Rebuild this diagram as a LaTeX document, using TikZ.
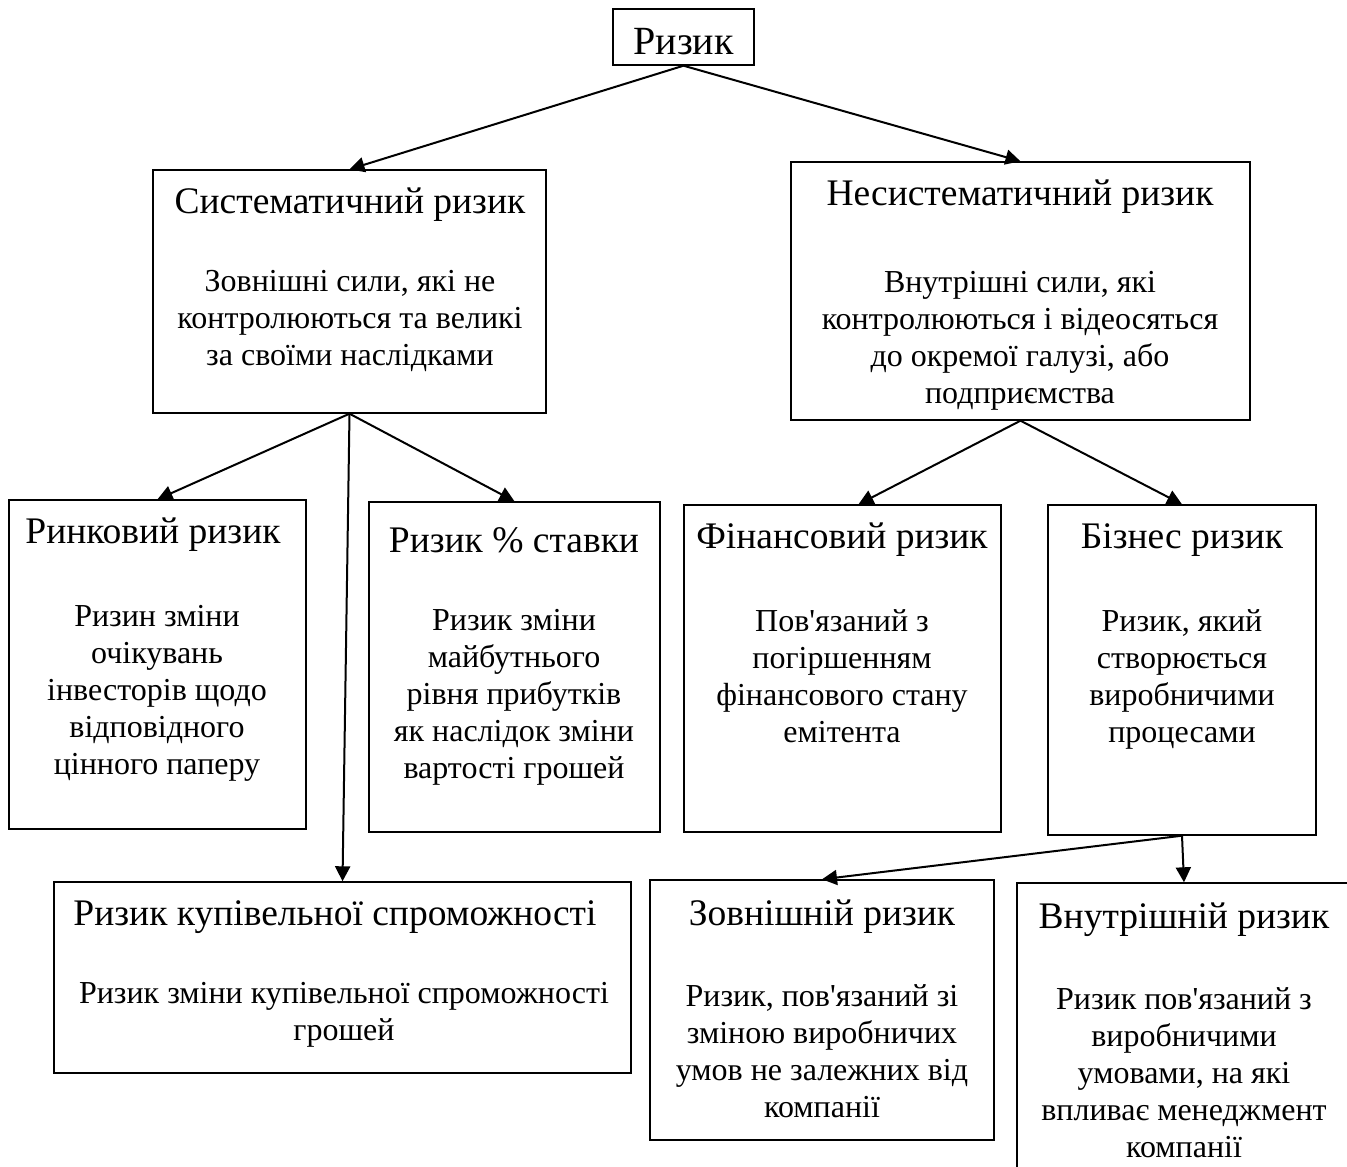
\documentclass[tikz,border=0pt]{standalone}
\usepackage{fontspec}
\setmainfont{Liberation Serif}
\usetikzlibrary{positioning,arrows.meta,calc}

\begin{document}
\begin{tikzpicture}[x=1pt,y=-1pt,every node/.style={inner sep=0pt},
  box/.style={draw,line width=1.4pt},
  ttl/.style={font=\fontsize{37.5}{42}\selectfont},
  txt/.style={anchor=north,align=center,font=\fontsize{32}{37}\selectfont},
  arr/.style={line width=2pt,-{Triangle[length=15pt,width=15pt]}}]
\useasboundingbox (0,0) rectangle (1347,1167);
% boxes
\node[box,minimum width=141pt,minimum height=56pt] (riz) at (683.5,37) {};
\node[box,minimum width=393pt,minimum height=243pt] (sys) at (349.5,291.5) {};
\node[box,minimum width=459pt,minimum height=258pt] (nes) at (1020.5,291) {};
\node[box,minimum width=297pt,minimum height=329pt] (rin) at (157.5,664.5) {};
\node[box,minimum width=291pt,minimum height=330pt] (stv) at (514.5,667) {};
\node[box,minimum width=317pt,minimum height=327pt] (fin) at (842.5,668.5) {};
\node[box,minimum width=268pt,minimum height=330pt] (biz) at (1182,670) {};
\node[box,minimum width=577pt,minimum height=191pt] (kup) at (342.5,977.5) {};
\node[box,minimum width=344pt,minimum height=260pt] (zov) at (822,1010) {};
\node[box,minimum width=334pt,minimum height=297pt] (vnu) at (1184,1031.5) {};
% titles
\node[ttl,font=\fontsize{40}{44}\selectfont] (rizT) at (683.5,42) {Ризик};
\node[ttl] (sysT) at (350,205) {Систематичний ризик};
\node[ttl] (nesT) at (1020,197) {Несистематичний ризик};
\node[ttl] (rinT) at (153,535) {Ринковий ризик};
\node[ttl] (stvT) at (514,540) {Ризик \% ставки};
\node[ttl] (finT) at (842,540) {Фінансовий ризик};
\node[ttl] (bizT) at (1182,540) {Бізнес ризик};
\node[ttl] (kupT) at (335,917) {Ризик купівельної спроможності};
\node[ttl] (zovT) at (822,917) {Зовнішній ризик};
\node[ttl] (vnuT) at (1184,920) {Внутрішній ризик};
% texts
\node[txt] (sysB) at (350,270) {Зовнішні сили, які не\\контролюються та великі\\за своїми наслідками};
\node[txt] (nesB) at (1020,271) {Внутрішні сили, які\\контролюються і відеосяться\\до окремої галузі, або\\подприємства};
\node[txt] (rinB) at (157,605) {Ризин зміни\\очікувань\\інвесторів щодо\\відповідного\\цінного паперу};
\node[txt] (stvB) at (514,609) {Ризик зміни\\майбутнього\\рівня прибутків\\як наслідок зміни\\вартості грошей};
\node[txt] (finB) at (842,609) {Пов\textquotesingle язаний з\\погіршенням\\фінансового стану\\емітента};
\node[txt] (bizB) at (1182,609) {Ризик, який\\створюється\\виробничими\\процесами};
\node[txt] (kupB) at (344,982) {Ризик зміни купівельної спроможності\\грошей};
\node[txt] (zovB) at (822,984) {Ризик, пов\textquotesingle язаний зі\\зміною виробничих\\умов не залежних від\\компанії};
\node[txt] (vnuB) at (1184,987) {Ризик пов\textquotesingle язаний з\\виробничими\\умовами, на які\\впливає менеджмент\\компанії};
% arrows
\draw[arr] (riz.south) -- (sys.north);
\draw[arr] (riz.south) -- (nes.north);
\draw[arr] (sys.south) -- (rin.north);
\draw[arr] (sys.south) -- (stv.north);
\draw[arr] (sys.south) -- (kup.north);
\draw[arr] (nes.south) -- ($(fin.north)+(16,0)$);
\draw[arr] (nes.south) -- (biz.north);
\draw[arr] (biz.south) -- (zov.north);
\draw[arr] (biz.south) -- (vnu.north);
\end{tikzpicture}
\end{document}
